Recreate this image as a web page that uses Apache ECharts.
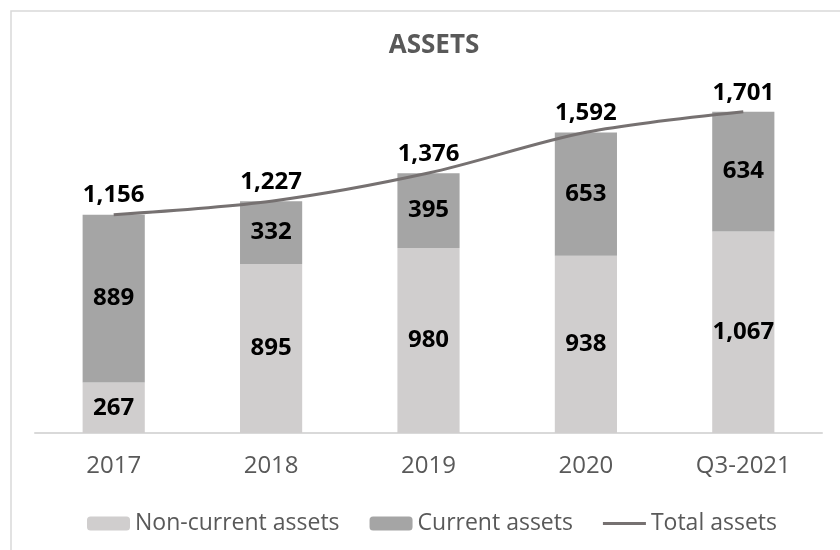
<!DOCTYPE html>
<html>
<head>
    <meta charset="utf-8">
    <title>Assets</title>
    <style type="text/css">
        html,
        body {
            height: 100%;
        }

        body {
            margin: 0;
            padding: 0;
            background: #fff;
        }

        #main {
            width: 840px;
            height: 550px;
        }
    </style>
</head>

<body>
<div id="main"></div>
<script type="text/javascript" src="https://cdn.jsdelivr.net/npm/echarts@6/dist/echarts.min.js"></script>
<script type="text/javascript">
    // data
    var categories = ['2017', '2018', '2019', '2020', 'Q3-2021'];
    var nonCurrent = [267, 895, 980, 938, 1067];
    var current = [889, 332, 395, 653, 634];
    var total = [1156, 1227, 1376, 1592, 1701];

    var FONT = '"Open Sans", "Noto Sans", sans-serif';

    function fmt(v) {
        return Number(v).toLocaleString('en-US');
    }

    var valueLabel = {
        show: true,
        position: 'inside',
        color: '#000',
        fontFamily: FONT,
        fontWeight: 'bold',
        fontSize: 24,
        formatter: function (p) { return fmt(p.value); }
    };

    var myChart;
    window.onload = function () {
        myChart = echarts.init(document.getElementById('main'));

        var option = {
            backgroundColor: '#fff',
            animation: false,
            title: {
                text: 'ASSETS',
                left: 429,
                textAlign: 'center',
                top: 28,
                textStyle: {
                    color: '#595959',
                    fontFamily: FONT,
                    fontWeight: 'bold',
                    fontSize: 26
                }
            },
            // chart frame, right and bottom edges run off the picture
            graphic: [{
                type: 'rect',
                shape: {x: 11, y: 11, width: 900, height: 600},
                style: {fill: 'none', stroke: '#d9d9d9', lineWidth: 1.5},
                silent: true
            }],
            legend: {
                left: 82,
                top: 507,
                itemWidth: 43,
                itemHeight: 14,
                itemGap: 30,
                symbolKeepAspect: true,
                data: [
                    'Non-current assets',
                    'Current assets',
                    {name: 'Total assets', icon: 'path://M0,0h43v3h-43z'}
                ],
                textStyle: {
                    color: '#595959',
                    fontFamily: FONT,
                    fontSize: 23
                }
            },
            grid: {
                left: 35,
                right: 18,
                top: 93,
                bottom: 117
            },
            xAxis: {
                type: 'category',
                data: categories,
                axisTick: {show: false},
                axisLine: {lineStyle: {color: '#d9d9d9', width: 2}},
                axisLabel: {
                    color: '#595959',
                    fontFamily: FONT,
                    fontSize: 24,
                    margin: 21
                }
            },
            yAxis: {
                type: 'value',
                min: 0,
                max: 1800,
                show: false,
                splitLine: {show: false}
            },
            series: [
                {
                    name: 'Non-current assets',
                    type: 'bar',
                    stack: 'assets',
                    barWidth: '39.5%',
                    data: nonCurrent,
                    itemStyle: {color: '#d0cece'},
                    label: valueLabel
                },
                {
                    name: 'Current assets',
                    type: 'bar',
                    stack: 'assets',
                    data: current,
                    itemStyle: {color: '#a5a5a5'},
                    label: valueLabel
                },
                {
                    name: 'Total assets',
                    type: 'line',
                    data: total,
                    smooth: 0.3,
                    symbol: 'circle',
                    symbolSize: 0,
                    showSymbol: true,
                    z: 5,
                    lineStyle: {color: '#767171', width: 3},
                    itemStyle: {color: '#767171'},
                    label: {
                        show: true,
                        position: 'top',
                        distance: 7,
                        color: '#000',
                        fontFamily: FONT,
                        fontWeight: 'bold',
                        fontSize: 24,
                        formatter: function (p) { return fmt(p.value); }
                    }
                }
            ]
        };

        myChart.setOption(option);
    };
</script>
</body>
</html>
